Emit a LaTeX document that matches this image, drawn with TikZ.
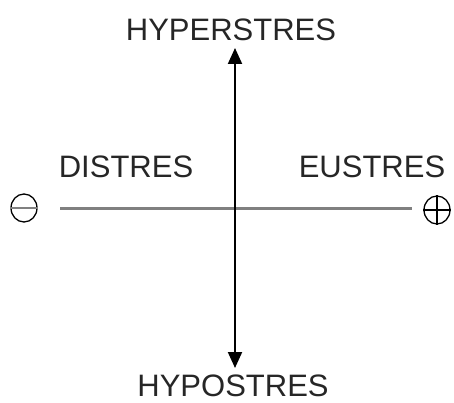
\documentclass[tikz,border=0pt]{standalone}
\usepackage{fontspec}
\setmainfont{Liberation Sans}
\usetikzlibrary{arrows.meta, shapes.geometric}

\begin{document}
\begin{tikzpicture}[
        x=1pt, y=-1pt,
        label/.style={inner sep=0pt, font=\fontsize{31}{31}\selectfont, text=black!85},
        sign/.style={draw, ellipse, line width=1.3pt, minimum width=26pt, minimum height=28pt, inner sep=0pt},
        axis/.style={line width=3pt, black!50},
        arrow/.style={{Triangle[length=16pt, width=14pt]}-{Triangle[length=16pt, width=14pt]}, line width=2pt}
    ]
    \useasboundingbox (0,0) rectangle (454,403);

    \node[label] (hyper) at (231,30) {HYPERSTRES};
    \node[label] (hypo) at (233,386) {HYPOSTRES};
    \node[label] (dis) at (126,167) {DISTRES};
    \node[label] (eu) at (372,167) {EUSTRES};

    \node[sign] (minus) at (24,208) {};
    \node[sign] (plus) at (437,210) {};
    \draw[axis, line width=2.5pt] (minus.west) -- (minus.east);
    \draw[line width=1.3pt] (plus.west) -- (plus.east);
    \draw[line width=1.3pt] (plus.north) -- (plus.south);

    \coordinate (axisL) at (60,208);
    \coordinate (axisR) at (412,208);
    \coordinate (top) at (235,48);
    \coordinate (bottom) at (235,368);

    \draw[axis] (axisL) -- (axisR);
    \draw[arrow] (bottom) -- (top);
\end{tikzpicture}
\end{document}
